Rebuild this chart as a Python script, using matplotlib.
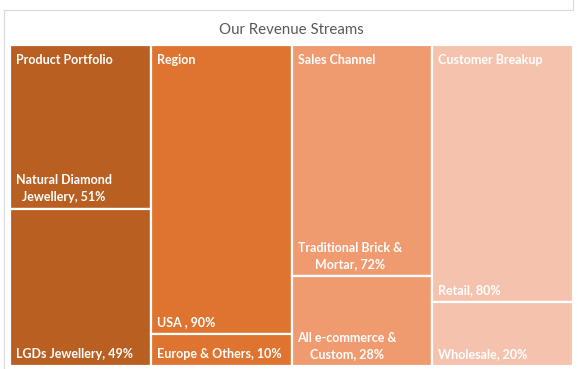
import matplotlib.pyplot as plt
from matplotlib.patches import Rectangle

# revenue split data (each group sums to 100%)
groups = ["Product Portfolio", "Region", "Sales Channel", "Customer Breakup"]
leaf_names = [
    ["Natural Diamond\nJewellery", "LGDs Jewellery"],
    ["USA ", "Europe & Others"],
    ["Traditional Brick &\nMortar", "All e-commerce &\nCustom"],
    ["Retail", "Wholesale"],
]
leaf_values = [[51, 49], [90, 10], [72, 28], [80, 20]]
colors = ["#BA5F22", "#DE7430", "#F09A70", "#F5C2AE"]

W, H = 578, 369
fig = plt.figure(figsize=(W / 100, H / 100), dpi=100)
fig.patch.set_facecolor("white")

# outer chart frame (light gray)
frame = fig.add_axes([0, 0, 1, 1])
frame.set_xlim(0, W)
frame.set_ylim(H, 0)
frame.axis("off")
frame.plot([4, 573, 573], [10, 10, 0], color="#D9D9D9", lw=0.8)
frame.plot([4, 4], [10, H], color="#D9D9D9", lw=0.8)
frame.text(291, 30, "Our Revenue Streams", ha="center", va="center",
           fontsize=10.8, color="#595959", family="Lato")

# treemap area
x0, x1, y0, y1 = 10, 573, 45, 366
ax = fig.add_axes([x0 / W, 1 - y1 / H, (x1 - x0) / W, (y1 - y0) / H])
totals = [sum(v) for v in leaf_values]
ax.set_xlim(0, sum(totals))
ax.set_ylim(100, 0)
ax.axis("off")

px_x = sum(totals) / (x1 - x0)
px_y = 100 / (y1 - y0)
font = dict(color="white", fontweight="bold", family="Lato", fontsize=9)

left = 0
for g, names, vals, col, tot in zip(groups, leaf_names, leaf_values, colors, totals):
    w = tot
    top = 0
    for name, v in zip(names, vals):
        h = v / tot * 100
        ax.add_patch(Rectangle((left, top), w, h, facecolor=col,
                               edgecolor="white", lw=1.6))
        ax.text(left + 6 * px_x, top + h - 6 * px_y, f"{name}, {v}%",
                ha="left", va="bottom", multialignment="center", linespacing=1.45, **font)
        top += h
    ax.text(left + 6 * px_x, 15 * px_y, g, ha="left", va="center", **font)
    left += w

fig.savefig("out.png", dpi=100)
